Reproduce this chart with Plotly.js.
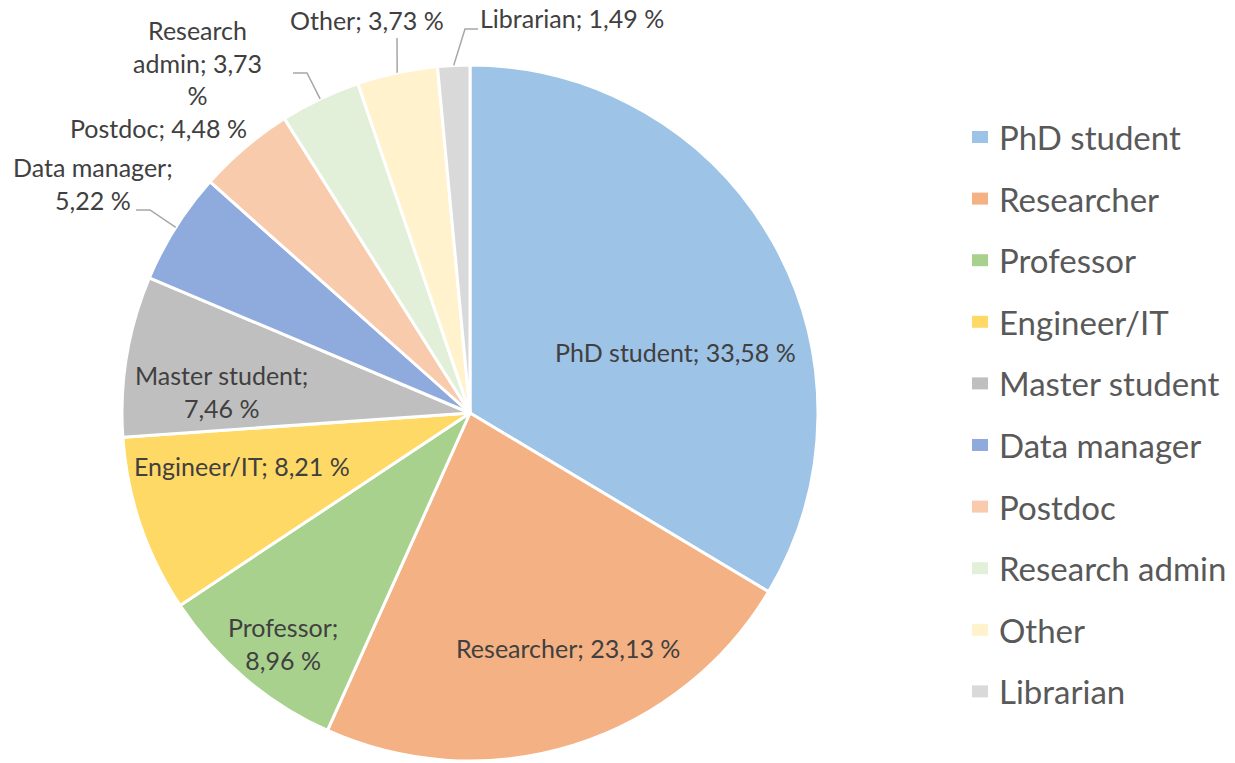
<!DOCTYPE html>
<html><head><meta charset="utf-8">
<script src="https://cdn.plot.ly/plotly-3.0.1.min.js"></script>
<style>html,body{margin:0;padding:0;background:#fff}#chart{width:1235px;height:763px}</style>
</head><body><div id="chart"></div>
<script>
// ---- data ----
const categories = ['PhD student','Researcher','Professor','Engineer/IT','Master student','Data manager','Postdoc','Research admin','Other','Librarian'];
const percentages = [33.58, 23.13, 8.96, 8.21, 7.46, 5.22, 4.48, 3.73, 3.73, 1.49];
// label line wrapping as in the original (text only)
const labelTexts = ['PhD student; 33,58 %','Researcher; 23,13 %','Professor;<br>8,96 %','Engineer/IT; 8,21 %','Master student;<br>7,46 %','Data manager;<br>5,22 %','Postdoc; 4,48 %','Research<br>admin; 3,73<br>%','Other; 3,73 %','Librarian; 1,49 %'];

// ---- styles ----
const colors = ['#9DC3E6','#F4B183','#A9D18E','#FFD966','#BFBFBF','#8FAADC','#F8CBAD','#E2F0D9','#FFF2CC','#D9D9D9'];
const W = 1235, H = 763;
const cx = 470, cy = 413, R = 348;
// label centre offsets from pie centre (px), and leader-line elbow/end (px from centre) for outside labels
const labelOffsets = [[205,-61],[98,235],[-187,230],[-228,53],[-248,-22],[-377,-230],[-312,-285],[-273,-350],[-103,-393],[102,-395]];
const leaders = [null,null,null,null,null,[[-320,-203],[-334,-203]],null,[[-163,-340],[-177,-340]],[[-73,-375]],[[-5,-384],[8,-384]]];
const labelFont = {family:'Lato, sans-serif', size:25, color:'#404040'};
const legendFont = {family:'Lato, sans-serif', size:33, color:'#595959'};

const px = x => x / W, py = y => 1 - y / H;

const trace = {
  type:'pie', labels:categories, values:percentages, sort:false,
  direction:'clockwise', rotation:0, textinfo:'none', hoverinfo:'label+percent',
  marker:{colors:colors, line:{color:'#ffffff', width:3}},
  domain:{x:[px(cx-R), px(cx+R)], y:[py(cy+R), py(cy-R)]},
  showlegend:false
};

const total = percentages.reduce((a,b)=>a+b,0);
const annotations = [], shapes = [];
let cum = 0;
percentages.forEach((v,i)=>{
  const mid = (cum + v/2) / total * 2 * Math.PI;
  cum += v;
  const ex = cx + R*Math.sin(mid), ey = cy - R*Math.cos(mid);
  const [dx,dy] = labelOffsets[i];
  annotations.push({x:px(cx+dx), y:py(cy+dy), xref:'paper', yref:'paper', text:labelTexts[i],
    showarrow:false, font:labelFont, xanchor:'center', yanchor:'middle', align:'center'});
  if (leaders[i]) {
    let p = 'M ' + px(ex) + ' ' + py(ey);
    leaders[i].forEach(([lx,ly]) => { p += ' L ' + px(cx+lx) + ' ' + py(cy+ly); });
    shapes.push({type:'path', xref:'paper', yref:'paper', path:p, line:{color:'#A6A6A6', width:1.5}});
  }
});

// legend (built from categories & colors)
const legTop = 137, legStep = 61.6, legSymX = 972, legTextX = 997;
categories.forEach((c,i)=>{
  const y = legTop + i*legStep;
  shapes.push({type:'rect', xref:'paper', yref:'paper', x0:px(legSymX), x1:px(legSymX+16), y0:py(y-6), y1:py(y+6),
    fillcolor:colors[i], line:{width:0}});
  annotations.push({x:px(legTextX), y:py(y), xref:'paper', yref:'paper', text:c, showarrow:false,
    font:legendFont, xanchor:'left', yanchor:'middle'});
});

const layout = {
  width:W, height:H, margin:{l:0,r:0,t:0,b:0},
  paper_bgcolor:'#ffffff', plot_bgcolor:'#ffffff',
  showlegend:false, annotations:annotations, shapes:shapes
};
Plotly.newPlot('chart', [trace], layout, {displayModeBar:false, staticPlot:true});
</script>
</body></html>
